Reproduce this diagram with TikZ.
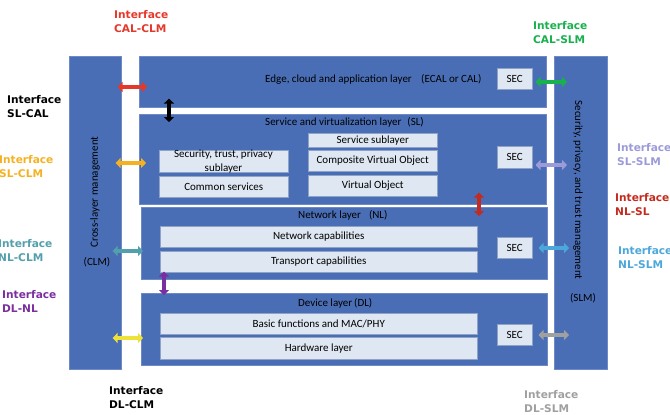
\documentclass[tikz,border=0pt]{standalone}
\usepackage{fontspec}
\setmainfont{Carlito}
\newfontfamily\lblfont{DejaVu Sans}
\usetikzlibrary{arrows.meta}
\definecolor{layerblue}{HTML}{4A6EB5}
\definecolor{layeredge}{HTML}{6D8AC6}
\definecolor{subfill}{HTML}{DEE7F2}
\definecolor{subedge}{HTML}{8FA3C6}
\definecolor{cRed}{HTML}{E5382B}
\definecolor{cYellow}{HTML}{F4B223}
\definecolor{cTeal}{HTML}{52A0AC}
\definecolor{cPurple}{HTML}{7B2E9F}
\definecolor{cLemon}{HTML}{EEE23A}
\definecolor{cGreen}{HTML}{19B04E}
\definecolor{cLav}{HTML}{9C9AD8}
\definecolor{cDkRed}{HTML}{C42A1E}
\definecolor{cBlue}{HTML}{4CA7DB}
\definecolor{cGray}{HTML}{A0A0A0}
\tikzset{
  txt/.style={font=\fontsize{11}{13}\selectfont},
  layer/.style={fill=layerblue, draw=layeredge, line width=0.6pt, anchor=north west, inner sep=0pt},
  subbox/.style={txt, fill=subfill, draw=subedge, line width=0.5pt, anchor=north west, inner sep=0pt},
  ttl/.style={txt, anchor=west, inner sep=0pt},
  iflabel/.style={anchor=west, inner sep=0pt, align=left, font=\lblfont\bfseries\fontsize{10.6}{14}\selectfont},
  dbl/.style={line width=3.6pt, {Triangle[length=5pt,width=10pt]}-{Triangle[length=5pt,width=10pt]}},
}
\begin{document}
\begin{tikzpicture}[x=1pt,y=-1pt]
\useasboundingbox (0,0) rectangle (670,415);

% management bars
\node[layer, minimum width=52pt, minimum height=313pt] (clm) at (69,56) {};
\node[layer, minimum width=53pt, minimum height=313pt] (slm) at (554,56) {};

% layers
\node[layer, minimum width=407pt, minimum height=51pt] (cal) at (139,56) {};
\node[layer, minimum width=407pt, minimum height=90pt] (sl) at (139,114) {};
\node[layer, minimum width=406pt, minimum height=72pt] (nl) at (141,207) {};
\node[layer, minimum width=406pt, minimum height=72pt] (dl) at (141,293) {};

% layer titles
\node[ttl] (caltitle) at (265,80) {Edge, cloud and application layer};
\node[ttl] (calabbr) at (421,79) {(ECAL or CAL)};
\node[ttl] (sltitle) at (265,122) {Service and virtualization layer\hspace{6pt}(SL)};
\node[ttl] (nltitle) at (298,215) {Network layer\hspace{8pt}(NL)};
\node[ttl] (dltitle) at (298,303) {Device layer\hspace{2pt}(DL)};

% management titles
\node[txt, rotate=90, inner sep=0pt] (clmtitle) at (95,192) {Cross-layer management};
\node[txt, inner sep=0pt] (clmabbr) at (97,262) {(CLM)};
\node[txt, rotate=-90, inner sep=0pt] (slmtitle) at (578,190) {Security, privacy, and trust management};
\node[txt, inner sep=0pt] (slmabbr) at (583,298) {(SLM)};

% sublayers
\node[subbox, minimum width=35pt, minimum height=21pt] (sec1) at (497,68) {SEC};
\node[subbox, minimum width=129pt, minimum height=22pt] (stp) at (159,150) {};
\node[align=center, inner sep=0pt, font=\fontsize{11}{14}\selectfont] (stptext) at (223.5,162) {Security, trust, privacy\\sublayer};
\node[subbox, minimum width=129pt, minimum height=21pt] (common) at (159,176) {Common services};
\node[subbox, minimum width=129pt, minimum height=14pt] (servsub) at (308,133) {Service sublayer};
\node[subbox, minimum width=129pt, minimum height=21pt] (cvo) at (308,150) {Composite Virtual Object};
\node[subbox, minimum width=129pt, minimum height=21pt] (vo) at (308,175) {Virtual Object};
\node[subbox, minimum width=35pt, minimum height=22pt] (sec2) at (497,146) {SEC};
\node[subbox, minimum width=317pt, minimum height=21pt] (netcap) at (160,226) {Network capabilities};
\node[subbox, minimum width=317pt, minimum height=21pt] (transcap) at (160,251) {Transport capabilities};
\node[subbox, minimum width=35pt, minimum height=21pt] (sec3) at (497,237) {SEC};
\node[subbox, minimum width=317pt, minimum height=21pt] (basic) at (160,313) {Basic functions and MAC/PHY};
\node[subbox, minimum width=317pt, minimum height=22pt] (hw) at (160,337) {Hardware layer};
\node[subbox, minimum width=35pt, minimum height=21pt] (sec4) at (497,324) {SEC};

% interface arrows
\draw[dbl, cRed, shorten <=-4pt, shorten >=-8pt] (clm.east |- 0,87) -- (cal.west |- 0,87);
\draw[dbl, black, shorten <=-9pt, shorten >=-8pt] (169,0 |- cal.south) -- (169,0 |- sl.north);
\draw[dbl, cYellow, shorten <=-6pt, shorten >=-7pt] (clm.east |- 0,163) -- (sl.west |- 0,163);
\draw[dbl, cTeal, shorten <=-9pt, shorten >=-2pt] (clm.east |- 0,251) -- (nl.west |- 0,251);
\draw[dbl, cPurple, shorten <=-8pt, shorten >=-2pt] (164,0 |- nl.south) -- (164,0 |- dl.north);
\draw[dbl, cLemon, shorten <=-9pt, shorten >=-2pt] (clm.east |- 0,338) -- (dl.west |- 0,338);
\draw[dbl, cGreen, shorten <=3pt, shorten >=-13pt] (sec1.east |- 0,82) -- (slm.west |- 0,82);
\draw[dbl, cLav, shorten <=3pt, shorten >=-13pt] (sec2.east |- 0,165) -- (slm.west |- 0,165);
\draw[dbl, cDkRed, shorten <=-12pt, shorten >=-9pt] (479,0 |- sl.south) -- (479,0 |- nl.north);
\draw[dbl, cBlue, shorten <=6pt, shorten >=-15pt] (sec3.east |- 0,248) -- (slm.west |- 0,248);
\draw[dbl, cGray, shorten <=6pt, shorten >=-15pt] (sec4.east |- 0,335) -- (slm.west |- 0,335);

% interface labels
\node[iflabel, text=cRed] (lcalclm) at (114,22) {Interface\\CAL-CLM};
\node[iflabel, text=black] (lslcal) at (7,107) {Interface\\SL-CAL};
\node[iflabel, text=cYellow] (lslclm) at (-1,167) {Interface\\SL-CLM};
\node[iflabel, text=cTeal] (lnlclm) at (-2,251) {Interface\\NL-CLM};
\node[iflabel, text=cPurple] (ldlnl) at (2,301) {Interface\\DL-NL};
\node[iflabel, text=black] (ldlclm) at (109,398) {Interface\\DL-CLM};
\node[iflabel, text=cGreen] (lcalslm) at (533,33) {Interface\\CAL-SLM};
\node[iflabel, text=cLav] (lslslm) at (617,155) {Interface\\SL-SLM};
\node[iflabel, text=cDkRed] (lnlsl) at (615,205) {Interface\\NL-SL};
\node[iflabel, text=cBlue] (lnlslm) at (618,258) {Interface\\NL-SLM};
\node[iflabel, text=cGray] (ldlslm) at (524,402) {Interface\\DL-SLM};
\end{tikzpicture}
\end{document}
